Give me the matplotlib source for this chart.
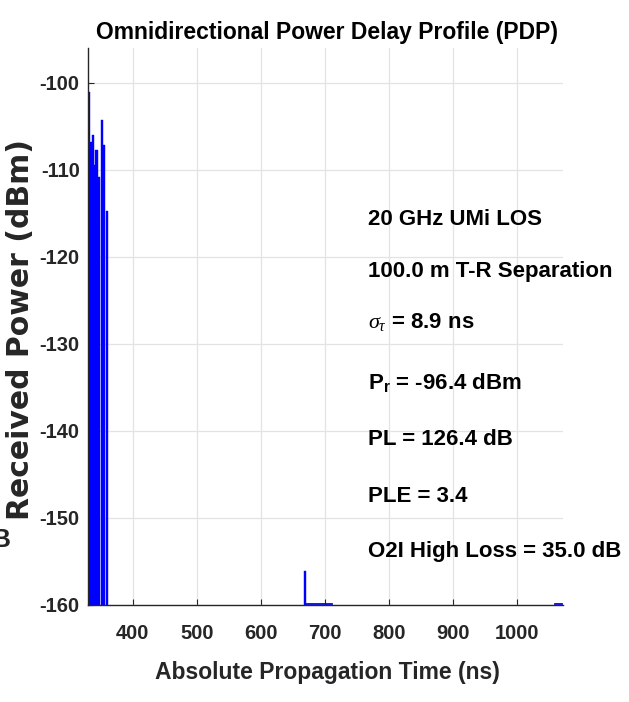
import numpy as np
import matplotlib
matplotlib.use('Agg')
import matplotlib.pyplot as plt

# multipath components (ns, dBm)
delays = [332.0, 335.6, 338.0, 340.6, 343.5, 347.4, 351.7, 355.0, 360.0, 669.5]
powers = [-101.0, -106.8, -106.0, -109.4, -107.7, -110.8, -104.3, -107.2, -114.7, -156.1]

# noise floor traces along the bottom
floor_t1 = [669.5, 690.0, 711.5]
floor_p1 = [-159.85, -159.85, -159.85]
floor_t2 = [1060.0, 1070.0]
floor_p2 = [-159.85, -159.85]

xticks = [400, 500, 600, 700, 800, 900, 1000]
yticks = [-160, -150, -140, -130, -120, -110, -100]

info = ['20 GHz UMi LOS',
        '100.0 m T-R Separation',
        r'$\sigma_\tau$ = 8.9 ns',
        r'P$_\mathregular{r}$ = -96.4 dBm',
        'PL = 126.4 dB',
        'PLE = 3.4',
        'O2I High Loss = 35.0 dB']
info_y = [220, 272, 322, 383, 440, 497, 552]

plt.rcParams['font.family'] = ['Liberation Sans', 'DejaVu Sans']
plt.rcParams['axes.unicode_minus'] = False
plt.rcParams['mathtext.fontset'] = 'custom'
plt.rcParams['mathtext.rm'] = 'Liberation Sans:bold'
plt.rcParams['mathtext.it'] = 'Liberation Serif:italic'

fig = plt.figure(figsize=(6.29, 7.02), dpi=100)
ax = fig.add_axes([88/629, 1-605/702, (563-88)/629, (605-48)/702])

base = -160
ax.bar(delays, [p - base for p in powers], bottom=base, width=3.6,
       color='#0000ff', edgecolor='#0000ff', linewidth=0.3)
ax.plot(floor_t1, floor_p1, color='#0000ff', lw=1.3)
ax.plot(floor_t2, floor_p2, color='#0000ff', lw=1.3)

ax.set_xlim(330, 1072)
ax.set_ylim(-160, -96)
ax.set_xticks(xticks)
ax.set_yticks(yticks)
ax.grid(True, color='#e3e3e3', lw=0.9)
ax.set_axisbelow(True)
for s in ['top', 'right']:
    ax.spines[s].set_visible(False)
for s in ['left', 'bottom']:
    ax.spines[s].set_color('#262626')
    ax.spines[s].set_linewidth(1.0)
ax.tick_params(direction='in', length=4, width=0.8, colors='#262626',
               labelsize=14.5)
ax.tick_params(axis='x', pad=14)
ax.tick_params(axis='y', pad=6)
for lab in ax.get_xticklabels() + ax.get_yticklabels():
    lab.set_fontweight('bold')
    lab.set_color('#262626')

fig.text(327/629, 1-32/702, 'Omnidirectional Power Delay Profile (PDP)',
         fontsize=16.5, fontweight='bold', ha='center', va='center')
fig.text(327/629, 1-672/702, 'Absolute Propagation Time (ns)', fontsize=16.5,
         fontweight='bold', color='#262626', ha='center', va='center')
fig.text(21/629, 1-330/702, 'Received Power (dBm)', rotation=90, fontsize=21.5,
         fontweight='bold', family='DejaVu Sans', color='#262626',
         ha='center', va='center')
fig.text(-0.014, 1-540/702, 'B', fontsize=19, fontweight='bold',
         color='#262626', ha='left', va='center')

for s, y in zip(info, info_y):
    fig.text(368/629, 1-y/702, s, fontsize=16, fontweight='bold',
             ha='left', va='center')

fig.savefig('out.png', dpi=100)
